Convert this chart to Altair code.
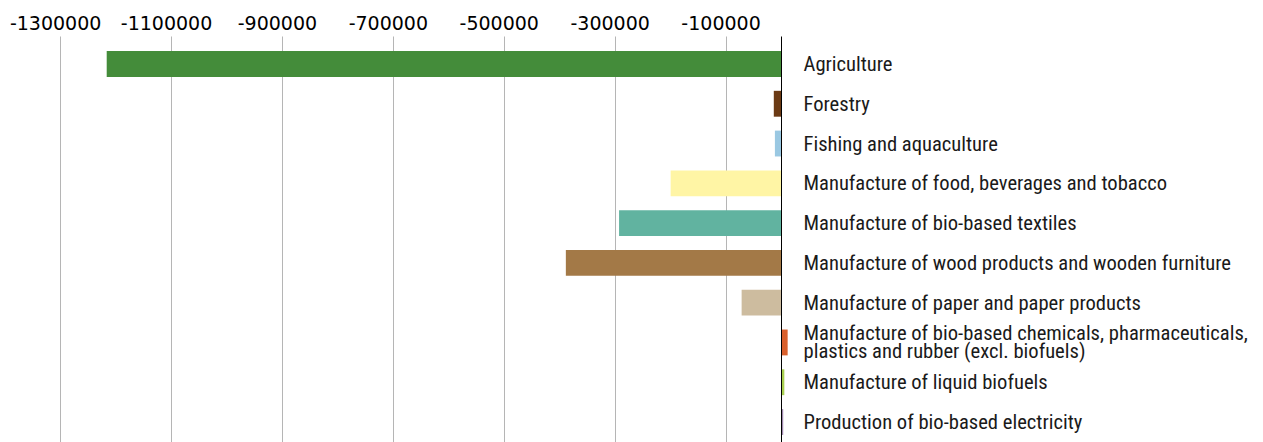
import altair as alt
import pandas as pd

categories = [
    "Agriculture",
    "Forestry",
    "Fishing and aquaculture",
    "Manufacture of food, beverages and tobacco",
    "Manufacture of bio-based textiles",
    "Manufacture of wood products and wooden furniture",
    "Manufacture of paper and paper products",
    "Manufacture of bio-based chemicals, pharmaceuticals,|plastics and rubber (excl. biofuels)",
    "Manufacture of liquid biofuels",
    "Production of bio-based electricity",
]
values = [-1216000, -13000, -11000, -199000, -292000, -388000, -71000, 12000, 6000, 4000]
colors = ["#448c3a", "#6b3a14", "#9ac8e2", "#fff5a5", "#61b3a0",
          "#a37947", "#cdbc9f", "#d9602d", "#a8cf50", "#9f88ae"]
tick_values = [-1300000, -1100000, -900000, -700000, -500000, -300000, -100000]

df = pd.DataFrame({"category": categories, "value": values})

chart = alt.Chart(df).mark_bar().encode(
    x=alt.X(
        "value:Q",
        scale=alt.Scale(domain=[-1394000, 0], nice=False),
        axis=alt.Axis(
            orient="top", values=tick_values, title=None, grid=True, format="d",
            gridColor="#b5b5b5", gridWidth=1, domain=False, ticks=False, tickSize=0,
            labelFont="DejaVu Sans", labelFontSize=19, labelColor="#000000",
            labelBaseline="alphabetic", labelPadding=7, labelOffset=-5,
            labelExpr="replace(datum.label, '\u2212', '-')",
        ),
    ),
    y=alt.Y(
        "category:N", sort=categories,
        scale=alt.Scale(paddingInner=0.35, paddingOuter=0.378),
        axis=alt.Axis(
            orient="right", title=None, domain=True, domainColor="#000000", domainWidth=1,
            ticks=False, tickSize=0, labelAlign="left", labelPadding=22,
            labelFont="Liberation Sans Narrow, Roboto Condensed, Roboto", labelFontSize=20.6,
            labelColor="#1a1a1a", labelLimit=0, labelLineHeight=18,
            labelOffset={"condition": {"test": "indexof(datum.value, '|') >= 0", "value": -8}, "value": 1},
            labelExpr="split(datum.label, '|')", zindex=1,
        ),
    ),
    color=alt.Color("category:N", scale=alt.Scale(domain=categories, range=colors), legend=None),
).properties(
    width=773, height=414,
    autosize=alt.AutoSizeParams(type="none"),
    padding={"left": 0, "top": 28, "right": 470, "bottom": 0},
).configure(background="white").configure_view(stroke=None)

chart.save("out.html", embed_options={"renderer": "svg", "actions": False})
